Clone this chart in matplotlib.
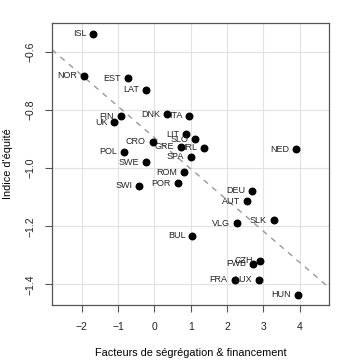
import numpy as np
import matplotlib
matplotlib.use("Agg")
import matplotlib.pyplot as plt

countries = ["ISL", "NOR", "EST", "LAT", "FIN", "UK", "DNK", "ITA", "CRO", "POL",
             "SWE", "LIT", "SLO", "GRE", "IRL", "SPA", "ROM", "NED", "SWI", "POR",
             "DEU", "AUT", "SLK", "VLG", "BUL", "CZH", "FWB", "FRA", "LUX", "HUN"]
segregation = [-1.68, -1.94, -0.74, -0.23, -0.93, -1.10, 0.36, 0.96, -0.05, -0.83,
               -0.23, 0.87, 1.12, 0.74, 1.38, 1.00, 0.82, 3.90, -0.42, 0.64,
               2.69, 2.55, 3.29, 2.28, 1.05, 2.90, 2.71, 2.21, 2.87, 3.95]
equity = [-0.537, -0.682, -0.690, -0.730, -0.821, -0.842, -0.815, -0.820, -0.909, -0.944,
          -0.979, -0.883, -0.900, -0.926, -0.929, -0.961, -1.014, -0.934, -1.061, -1.052,
          -1.078, -1.113, -1.179, -1.190, -1.232, -1.319, -1.329, -1.384, -1.384, -1.436]
xticks = [-2, -1, 0, 1, 2, 3, 4]
yticks = [-1.4, -1.2, -1.0, -0.8, -0.6]

plt.rcParams['font.family'] = ['Liberation Sans', 'DejaVu Sans']

fig = plt.figure(figsize=(3.56, 3.64), dpi=100)
W, H = 356, 364
ax = fig.add_axes([52 / W, 1 - 305 / H, (329 - 52) / W, (305 - 23) / H])

x = np.array(segregation)
y = np.array(equity)
ax.set_xlim(-2.82, 4.81)
ax.set_ylim(-1.471, -0.50)

ax.set_xticks(xticks)
ax.set_yticks(yticks)
ax.set_xticklabels([str(t).replace("-", "\u2212") for t in xticks])
ax.set_yticklabels([f"{t:.1f}".replace("-", "\u2212") for t in yticks],
                   rotation=90, va="center")
ax.grid(True, color="#e2e2e2", linewidth=0.8)
ax.set_axisbelow(True)
for s in ax.spines.values():
    s.set_color("#555555")
    s.set_linewidth(0.9)
ax.tick_params(direction="out", length=5, width=0.8, color="#555555",
               labelsize=7.5, labelcolor="#222222", pad=7)

# regression line
slope, intercept = np.polyfit(x, y, 1)
xl = np.array([-2.82, 4.81])
ax.plot(xl, intercept + slope * xl, linestyle=(0, (4, 4)), color="#999999",
        linewidth=1.0, zorder=2)

ax.scatter(x, y, s=22, color="black", zorder=3)
for c, xi, yi in zip(countries, x, y):
    ax.annotate(c, (xi, yi), xytext=(-5, 0), textcoords="offset points",
                ha="right", va="center", fontsize=6.5, color="#222222", zorder=4)

ax.set_xlabel("Facteurs de ségrégation & financement", fontsize=7.8, labelpad=12)
ax.set_ylabel("Indice d'équité", fontsize=7.8, labelpad=9)

fig.savefig("out.png", dpi=100)
